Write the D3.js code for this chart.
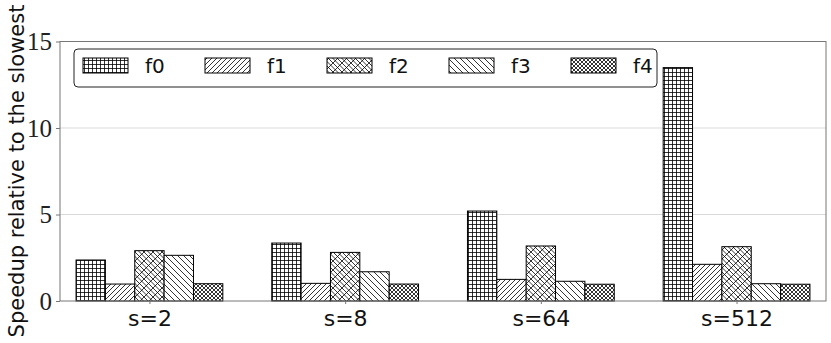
<!DOCTYPE html>
<html><head><meta charset="utf-8">
<script src="https://cdn.jsdelivr.net/npm/d3@7"></script>
<style>body{margin:0;background:#fff}svg{display:block}</style>
</head><body>
<script>
const categories = ["s=2", "s=8", "s=64", "s=512"];
const seriesNames = ["f0", "f1", "f2", "f3", "f4"];
const f0 = [2.37, 3.35, 5.2, 13.49];
const f1 = [0.98, 1.02, 1.25, 2.12];
const f2 = [2.91, 2.81, 3.18, 3.14];
const f3 = [2.64, 1.69, 1.14, 1.0];
const f4 = [1.0, 0.98, 0.97, 0.97];
const yTicks = [0, 5, 10, 15];
const series = [f0, f1, f2, f3, f4];

const W = 831, H = 343;
const svg = d3.select("body").append("svg").attr("width", W).attr("height", H);
const defs = svg.append("defs");

function pat(id, size, draw) {
  const p = defs.append("pattern").attr("id", id).attr("patternUnits", "userSpaceOnUse")
    .attr("width", size).attr("height", size);
  p.append("rect").attr("width", size).attr("height", size).attr("fill", "#fff");
  draw(p, size);
}
const st = (s) => s.attr("stroke", "#000").attr("stroke-width", 0.8).attr("fill", "none");
pat("h0", 4, (p, s) => { st(p.append("path").attr("d", `M0,0.5H${s}M0.5,0V${s}`)); });
pat("h1", 5, (p, s) => { st(p.append("path").attr("d", `M0,${s}L${s},0M-1,1L1,-1M${s-1},${s+1}L${s+1},${s-1}`)); });
pat("h2", 9, (p, s) => {
  st(p.append("path").attr("d", `M0,0L${s},${s}M${-s/2},0L${s/2},${s}M${s/2},0L${s*1.5},${s}M0,${s}L${s},0M-1,1L1,-1M${s-1},${s+1}L${s+1},${s-1}`));
});
pat("h3", 6, (p, s) => { st(p.append("path").attr("d", `M0,0L${s},${s}M-1,${s-1}L1,${s+1}M${s-1},-1L${s+1},1`)); });
pat("h4", 4, (p, s) => { st(p.append("path").attr("d", `M0,0L${s},${s}M0,${s}L${s},0`)); });

const mL = 60, mR = 826, mT = 41.5, mB = 301;
const x = d3.scaleLinear().domain([-0.457, 3.457]).range([mL, mR]);
const y = d3.scaleLinear().domain([0, 15]).range([mB, mT]);
const nS = seriesNames.length, bw = 0.15;

svg.append("g").selectAll("line").data(yTicks.filter(t => t > 0 && t < 15)).join("line")
  .attr("x1", mL).attr("x2", mR).attr("y1", d => y(d)).attr("y2", d => y(d))
  .attr("stroke", "#d9d9d9").attr("stroke-width", 1);

series.forEach((vals, si) => {
  svg.append("g").selectAll("rect").data(vals).join("rect")
    .attr("x", (d, i) => x(i + (si - (nS - 1) / 2) * bw - bw / 2))
    .attr("width", x(bw) - x(0))
    .attr("y", d => y(d))
    .attr("height", d => y(0) - y(d))
    .attr("fill", `url(#h${si})`)
    .attr("stroke", "#000").attr("stroke-width", 1);
});

svg.append("rect").attr("x", mL).attr("y", mT).attr("width", mR - mL).attr("height", mB - mT)
  .attr("fill", "none").attr("stroke", "#777").attr("stroke-width", 1);

const yAxis = svg.append("g").attr("transform", `translate(${mL},0)`)
  .call(d3.axisLeft(y).tickValues(yTicks).tickSize(4).tickPadding(4));
yAxis.select(".domain").remove();
yAxis.selectAll("line").attr("stroke", "#777");
yAxis.selectAll("text").attr("font-family", "'Liberation Serif', serif").attr("font-size", 25).attr("fill", "#222");

const xAxis = svg.append("g").attr("transform", `translate(0,${mB})`)
  .call(d3.axisBottom(x).tickValues(d3.range(categories.length)).tickFormat(i => categories[i]).tickSize(3).tickPadding(6));
xAxis.select(".domain").remove();
xAxis.selectAll("line").attr("stroke", "#777");
xAxis.selectAll("text").attr("font-family", "'DejaVu Sans', sans-serif").attr("font-size", 22).attr("fill", "#111");

svg.append("text").attr("transform", `translate(24,171) rotate(-90)`)
  .attr("text-anchor", "middle").attr("font-family", "'DejaVu Sans', sans-serif")
  .attr("font-size", 21).attr("fill", "#111").text("Speedup relative to the slowest");

const lg = svg.append("g");
lg.append("rect").attr("x", 74).attr("y", 49).attr("width", 583).attr("height", 38).attr("rx", 4)
  .attr("fill", "#fff").attr("stroke", "#222").attr("stroke-width", 1);
seriesNames.forEach((n, i) => {
  const x0 = 83 + i * 122;
  lg.append("rect").attr("x", x0).attr("y", 58).attr("width", 45).attr("height", 15)
    .attr("fill", `url(#h${i})`).attr("stroke", "#000").attr("stroke-width", 1);
  lg.append("text").attr("x", x0 + 62).attr("y", 73).attr("font-family", "'DejaVu Sans', sans-serif")
    .attr("font-size", 20).attr("fill", "#111").text(n);
});
</script>
</body></html>
